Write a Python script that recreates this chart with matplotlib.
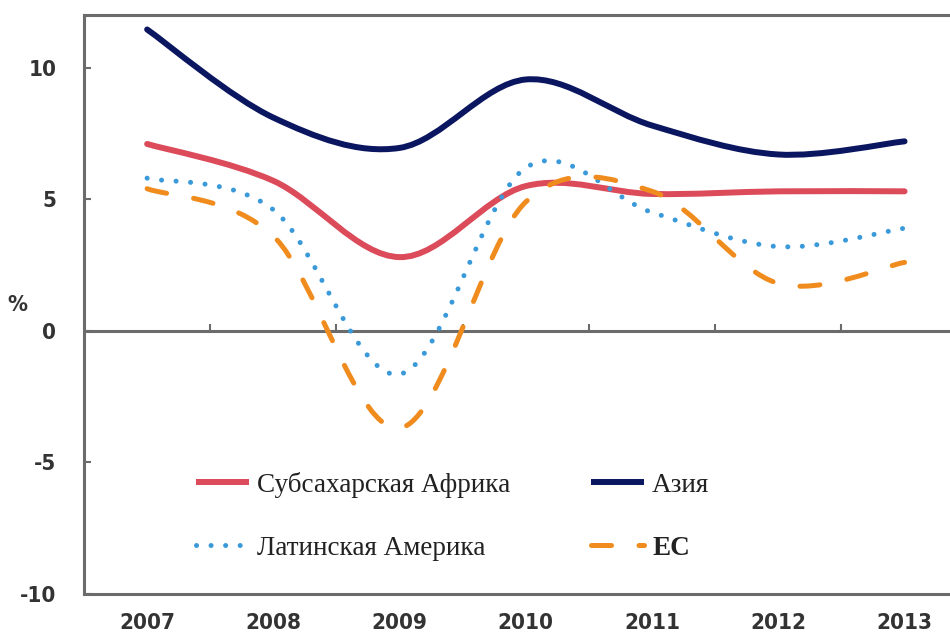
import matplotlib.pyplot as plt
from matplotlib.path import Path
from matplotlib.patches import PathPatch
from matplotlib.lines import Line2D

plt.rcParams["axes.unicode_minus"] = False

years = [2007, 2008, 2009, 2010, 2011, 2012, 2013]
africa = [7.1, 5.7, 2.8, 5.5, 5.2, 5.3, 5.3]
asia = [11.45, 8.1, 6.95, 9.55, 7.8, 6.7, 7.2]
latam = [5.8, 4.6, -1.65, 6.2, 4.5, 3.2, 3.9]
eu = [5.4, 3.6, -3.7, 4.9, 5.3, 1.8, 2.6]

labels = ["Субсахарская Африка", "Азия", "Латинская Америка", "ЕС"]
colors = ["#dc4b5a", "#0b1660", "#3a9ad9", "#f08c1e"]

tick_font = ["DejaVu Sans"]
legend_font = ["Liberation Serif", "DejaVu Serif"]


def smooth_path(xs, ys):
    # Excel-like smoothed line: Catmull-Rom segments as cubic Beziers
    pts = list(zip(xs, ys))
    verts = [pts[0]]
    codes = [Path.MOVETO]
    n = len(pts)
    for i in range(n - 1):
        p0 = pts[i - 1] if i > 0 else pts[i]
        p1 = pts[i]
        p2 = pts[i + 1]
        p3 = pts[i + 2] if i + 2 < n else pts[i + 1]
        c1 = (p1[0] + (p2[0] - p0[0]) / 6, p1[1] + (p2[1] - p0[1]) / 6)
        c2 = (p2[0] - (p3[0] - p1[0]) / 6, p2[1] - (p3[1] - p1[1]) / 6)
        verts += [c1, c2, p2]
        codes += [Path.CURVE4] * 3
    return Path(verts, codes)


fig = plt.figure(figsize=(9.5, 6.37), dpi=100)
ax = fig.add_axes([84 / 950, 43 / 637, 866 / 950, 579 / 637])
ax.set_xlim(2006.5, 2013.36)
ax.set_ylim(-10, 12)

styles = [
    dict(linestyle="-", linewidth=4.3),
    dict(linestyle="-", linewidth=4.3),
    dict(linestyle=(0, (0.01, 2.9)), linewidth=3.6),
    dict(linestyle=(0, (4, 5.5)), linewidth=3.6),
]

handles = []
for ys, lab, col, st in zip([africa, asia, latam, eu], labels, colors, styles):
    patch = PathPatch(smooth_path(years, ys), facecolor="none", edgecolor=col,
                      capstyle="round", joinstyle="round", zorder=3, **st)
    ax.add_patch(patch)
    handles.append(Line2D([], [], color=col, solid_capstyle="butt",
                          dash_capstyle="round", **st))

# zero line with small ticks between the years
ax.axhline(0, color="#6b6b6b", linewidth=2.2, zorder=2)
mids = [(a + b) / 2 for a, b in zip(years[:-1], years[1:])]
ax.plot(mids, [0] * len(mids), linestyle="none", marker=2, markersize=5,
        markeredgewidth=1.5, color="#6b6b6b", zorder=2)

for side in ["left", "top", "bottom"]:
    ax.spines[side].set_color("#6b6b6b")
    ax.spines[side].set_linewidth(2.2)
ax.spines["right"].set_visible(False)

ax.set_xticks(years)
ax.set_xticklabels([str(y) for y in years])
ax.set_yticks([-10, -5, 0, 5, 10])
ax.tick_params(axis="x", length=0, pad=14)
ax.tick_params(axis="y", direction="in", length=5, width=1.5, color="#6b6b6b", pad=20)
for t in ax.get_xticklabels() + ax.get_yticklabels():
    t.set_family(tick_font)
    t.set_stretch("condensed")
    t.set_fontsize(16)
    t.set_fontweight("bold")
    t.set_color("#333333")

fig.text(17 / 950, 1 - 305 / 637, "%", family=tick_font, fontsize=16,
         fontweight="bold", fontstretch="condensed", color="#333333",
         ha="center", va="center")

order = [0, 2, 1, 3]
leg = ax.legend([handles[i] for i in order], [labels[i] for i in order], ncol=2,
                frameon=False, loc="upper left",
                bbox_to_anchor=(0.129, 0.211), borderpad=0, borderaxespad=0,
                handlelength=1.95, handletextpad=0.3, columnspacing=3.0,
                labelspacing=1.4, prop={"family": legend_font, "size": 19.5})
for t in leg.get_texts():
    t.set_color("#222222")
    if t.get_text() == "ЕС":
        t.set_fontweight("bold")

fig.savefig("out.png", dpi=100)
